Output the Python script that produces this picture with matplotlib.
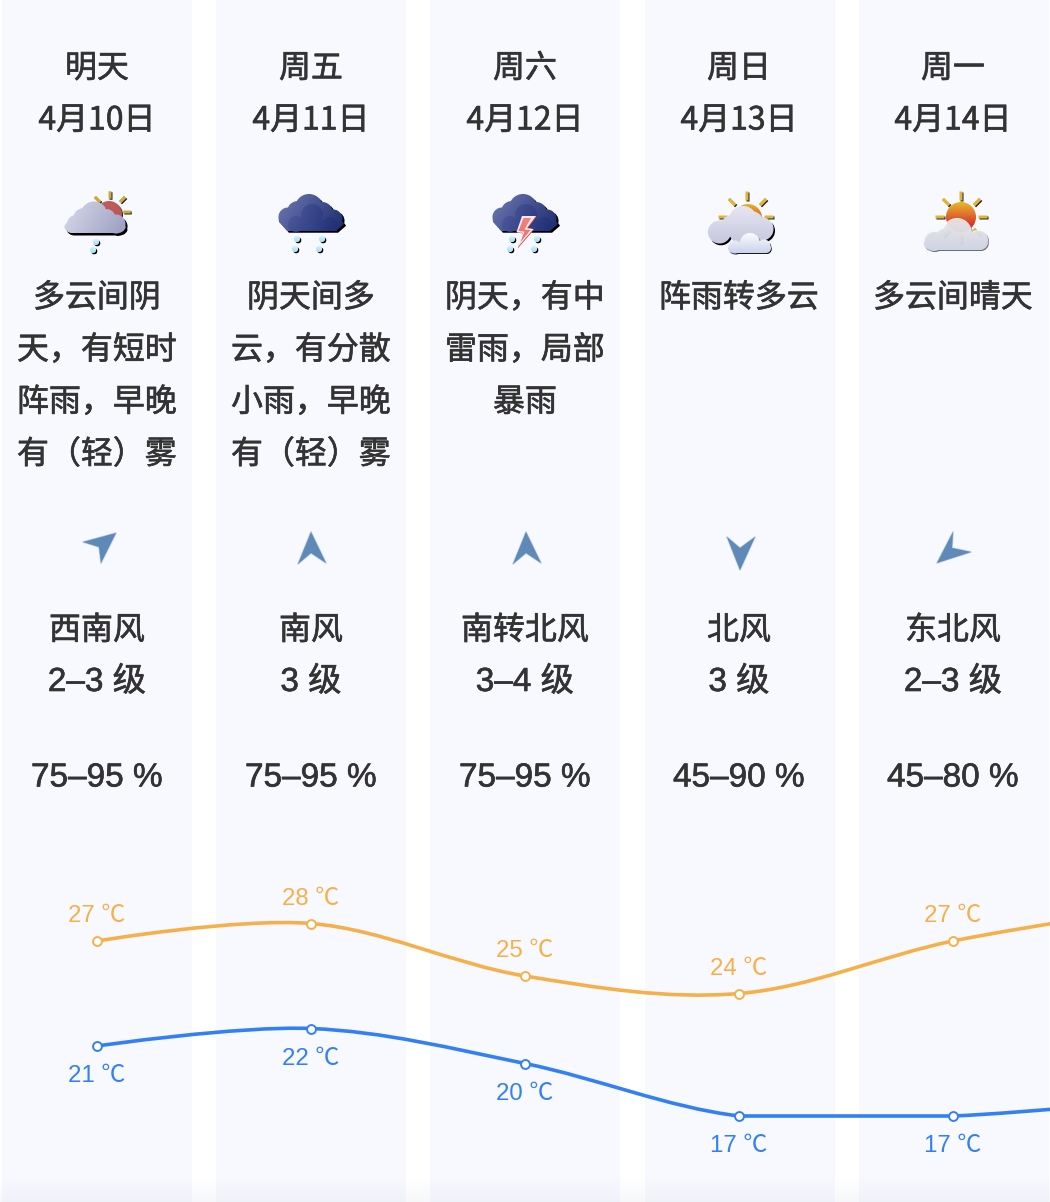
import numpy as np
import matplotlib
matplotlib.use("Agg")
import matplotlib.pyplot as plt
import matplotlib.patheffects as pe
from matplotlib.path import Path
from matplotlib.patches import PathPatch, Polygon, Rectangle

plt.rcParams['font.family'] = ['Noto Sans CJK SC', 'DejaVu Sans']

# ---------- data ----------
day_names = ["明天", "周五", "周六", "周日", "周一"]
dates = ["4月10日", "4月11日", "4月12日", "4月13日", "4月14日"]
weather = [
    ["多云间阴", "天，有短时", "阵雨，早晚", "有（轻）雾"],
    ["阴天间多", "云，有分散", "小雨，早晚", "有（轻）雾"],
    ["阴天，有中", "雷雨，局部", "暴雨"],
    ["阵雨转多云"],
    ["多云间晴天"],
]
wind_dir = ["西南风", "南风", "南转北风", "北风", "东北风"]
wind_level = ["2–3 级", "3 级", "3–4 级", "3 级", "2–3 级"]
humidity = ["75–95 %", "75–95 %", "75–95 %", "45–90 %", "45–80 %"]
# the sixth value belongs to the next day, which the crop cuts off
temp_high = [27, 28, 25, 24, 27, 29]
temp_low = [21, 22, 20, 17, 17, 18]

W, H = 1050, 1202
DAY0, DAY_STEP = 97, 214
BG = "#f8f9ff"
TEXT = "#333333"
ORANGE = "#f6b04a"
BLUE = "#3380f4"
ARROW = "#5f8ab8"

fig = plt.figure(figsize=(W / 100, H / 100), dpi=100, facecolor="white")
ax = fig.add_axes([0, 0, 1, 1])
ax.set_axis_off()

# ---------- column backgrounds ----------
for left in [2, 216, 430, 645, 859]:
    ax.add_patch(Rectangle((left, 0), 190, H, fc=BG, ec="none", zorder=0))


# ---------- small raster painter for the picture-like weather icons ----------
class Icon:
    SS = 4

    def __init__(self, x0, y0, w, h):
        self.ext = (x0, x0 + w, y0 + h, y0)
        self.x0, self.y0, self.w, self.h = x0, y0, w, h
        n = self.SS
        xs = x0 + (np.arange(w * n) + .5) / n
        ys = y0 + (np.arange(h * n) + .5) / n
        self.X, self.Y = np.meshgrid(xs, ys)
        self.rgb = np.ones(self.X.shape + (3,))
        self.a = np.zeros(self.X.shape)

    def circles(self, items, dx=0, dy=0):
        m = np.zeros(self.X.shape, bool)
        for cx, cy, r in items:
            m |= (self.X - cx - dx) ** 2 + (self.Y - cy - dy) ** 2 <= r * r
        return m

    def rbox(self, x1, y1, x2, y2, r, dx=0, dy=0):
        qx = np.abs(self.X - dx - (x1 + x2) / 2) - (x2 - x1) / 2 + r
        qy = np.abs(self.Y - dy - (y1 + y2) / 2) - (y2 - y1) / 2 + r
        d = np.hypot(np.maximum(qx, 0), np.maximum(qy, 0)) + np.minimum(np.maximum(qx, qy), 0) - r
        return d <= 0

    def poly(self, pts, dx=0, dy=0):
        p = Path([(a + dx, b + dy) for a, b in pts] + [pts[0]])
        pp = np.c_[self.X.ravel(), self.Y.ravel()]
        return p.contains_points(pp).reshape(self.X.shape)

    def grad(self, c1, c2, ux=0.0, uy=1.0, lo=None, hi=None):
        c1 = np.array(matplotlib.colors.to_rgb(c1))
        c2 = np.array(matplotlib.colors.to_rgb(c2))
        t = ux * self.X + uy * self.Y
        lo = t.min() if lo is None else lo
        hi = t.max() if hi is None else hi
        t = np.clip((t - lo) / (hi - lo), 0, 1)[..., None]
        return c1 * (1 - t) + c2 * t

    def paint(self, mask, col, alpha=1.0):
        if isinstance(col, str):
            col = np.array(matplotlib.colors.to_rgb(col))
        a = mask.astype(float) * alpha
        if np.ndim(col) == 1:
            col = np.broadcast_to(col, self.rgb.shape)
        out = a + self.a * (1 - a)
        safe = np.where(out > 0, out, 1)[..., None]
        self.rgb = (col * a[..., None] + self.rgb * (self.a * (1 - a))[..., None]) / safe
        self.a = out

    def ray(self, x, y, ang, ln=7.5, wd=3.2, col="#dcb63a"):
        c, s = np.cos(ang), np.sin(ang)
        u = (self.X - x) * c + (self.Y - y) * s
        v = -(self.X - x) * s + (self.Y - y) * c
        u2 = (self.X - x - 1) * c + (self.Y - y - 1) * s
        v2 = -(self.X - x - 1) * s + (self.Y - y - 1) * c
        self.paint((np.abs(u2) < ln / 2) & (np.abs(v2) < wd / 2), "#000000", .85)
        self.paint((np.abs(u) < ln / 2) & (np.abs(v) < wd / 2), col)

    def drop(self, x, y, r=3.1):
        self.paint(self.circles([(x, y, r)], 1.2, 1.2), "#000000")
        self.paint(self.circles([(x, y, r)]), self.grad("#d6f4fc", "#a4dcf2", lo=y - r, hi=y + r))

    def show(self):
        n = self.SS
        h, w = self.h, self.w
        pm = self.rgb * self.a[..., None]
        pm = pm.reshape(h, n, w, n, 3).mean(axis=(1, 3))
        a = self.a.reshape(h, n, w, n).mean(axis=(1, 3))
        rgb = pm / np.where(a > 0, a, 1)[..., None]
        ax.imshow(np.dstack([rgb, a]), extent=self.ext, interpolation="bilinear",
                  aspect="auto", zorder=2)


D45 = np.pi / 4

# icon 1: cloudy with a small sun and rain
ic = Icon(55, 185, 85, 75)
for x, y, a in [(110, 195, np.pi / 2), (97.5, 199.5, D45), (122.5, 199.5, -D45), (127, 212, 0)]:
    ic.ray(x, y, a, col="#c9aa42")
ic.paint(ic.circles([(109, 214, 13)], 1, 1), "#222222")
ic.paint(ic.circles([(109, 214, 13)]), ic.grad("#bc6a66", "#bb3a3a"))
cl = [(94, 215, 13.5), (84, 219, 11), (76, 224, 9), (106, 219, 10), (116, 224, 9.5)]
sh = ic.circles(cl, 2, 2.4) | ic.rbox(64, 222, 126, 233, 8, 2, 2.4)
ic.paint(sh, "#000000")
ic.paint(ic.circles(cl) | ic.rbox(64, 221, 126, 233, 8),
         ic.grad("#d4d5e5", "#9a9cc2", ux=.85, uy=.5, lo=.85 * 70 + .5 * 205, hi=.85 * 126 + .5 * 235))
ic.drop(96, 242)
ic.drop(93, 250)
ic.show()


def dark_cloud(ic, ox):
    cl = [(309 + ox, 208, 14), (298 + ox, 212, 11), (288 + ox, 217, 9.5),
          (322 + ox, 213, 11), (333 + ox, 219, 9.5)]
    base = [(278.5 + ox, 218), (342 + ox, 221), (344 + ox, 224), (336 + ox, 231), (287 + ox, 231), (279 + ox, 222)]
    ic.paint(ic.circles(cl, 2, 1.8) | ic.poly(base, 2, 1.8), "#000000")
    ic.paint(ic.circles(cl) | ic.poly(base),
             ic.grad("#6a77b0", "#1c2a6e", ux=.8, uy=.6,
                     lo=.8 * (280 + ox) + .6 * 198, hi=.8 * (343 + ox) + .6 * 232))
    inner = ic.circles([(312 + ox, 215, 11), (296 + ox, 224, 8), (330 + ox, 224, 7)]) | ic.rbox(
        288 + ox, 220, 338 + ox, 231, 4)
    ic.paint(inner & (ic.Y > 204),
             ic.grad("#4a579c", "#1e2c72", ux=1, uy=.3, lo=288 + ox + 62, hi=340 + ox + 68), .8)


# icon 2: overcast with rain
ic = Icon(270, 185, 85, 75)
dark_cloud(ic, 0)
for x, y in [(297, 239), (295, 249), (322, 239), (319, 249)]:
    ic.drop(x, y)
ic.show()

# icon 3: thunderstorm
ic = Icon(484, 185, 85, 75)
dark_cloud(ic, 214)
for x, y in [(512, 239), (510, 249), (537, 239), (534, 249)]:
    ic.drop(x, y)
bolt = [(522, 216), (536, 216), (527, 228), (533.5, 229), (517, 248), (523, 233), (516.5, 232)]
ic.paint(ic.poly(bolt, .6, .6), "#c04848")
ic.paint(ic.poly(bolt), "#fbe8e8")
bolt2 = [(523.5, 218), (531, 218), (524.5, 229.5), (530.5, 230), (520.5, 242), (524.5, 231.5), (518.5, 231)]
ic.paint(ic.poly(bolt2), ic.grad("#f6a4a4", "#e85a5a"))
ic.show()

# icon 4: showers to cloudy
ic = Icon(698, 185, 85, 75)
for x, y, a in [(747, 196, np.pi / 2), (732, 202, D45), (763, 202, -D45), (769, 217, 0), (723, 217, 0)]:
    ic.ray(x, y, a, ln=9)
ic.paint(ic.circles([(748, 218, 14)]), ic.grad("#e8b42c", "#d8402c", lo=204, hi=222))
big = [(743, 220, 14), (751, 224, 13), (732, 226, 11), (719.5, 232, 11.5), (762, 229, 11.5), (742, 232, 12.5)]
ic.paint(ic.circles(big, 1.5, 1.8), "#000000")
ic.paint(ic.circles(big), ic.grad("#e6e6f2", "#c4c6dc", lo=206, hi=245))
small = [(750, 243, 10), (735, 247, 6.5), (764, 246, 6.5)]
ic.paint(ic.circles(small, .8, 1) | ic.rbox(728, 243, 771, 253, 5, .8, 1), "#1a1a2a")
ic.paint(ic.circles(small) | ic.rbox(728, 243, 771, 253, 5), ic.grad("#fbfcff", "#c8d0ea", lo=233, hi=254))
ic.show()

# icon 5: cloudy with sunny intervals
ic = Icon(912, 185, 85, 75)
for x, y, a in [(961, 196, np.pi / 2), (946, 202, D45), (977, 202, -D45), (940, 217, 0), (983, 217, 0),
                (946, 233, -D45), (961, 239, np.pi / 2), (977, 232, D45)]:
    ic.ray(x, y, a, ln=9)
ic.paint(ic.circles([(961, 217, 15)]), ic.grad("#e8b42c", "#d8382c", lo=203, hi=224))
c5 = [(957, 233, 15), (934, 241, 10), (978, 240, 10), (946, 238, 11)]
b5 = ic.rbox(923, 236, 988, 250, 8)
ic.paint(ic.circles(c5, .8, 1) | ic.rbox(923, 236, 988, 250, 8, .8, 1), "#333340", .7)
ic.paint(ic.circles(c5) | b5, ic.grad("#fdfcfe", "#e2e8f8", lo=224, hi=250), .84)
ic.show()

# ---------- wind arrows ----------
arrows = [
    [(116, 533), (83, 542), (99, 547), (101, 563)],
    [(311, 532), (326, 563), (311, 553), (298, 564)],
    [(526, 532), (541, 563), (526, 553), (513, 564)],
    [(740, 570), (755, 537), (740, 548), (727, 537)],
    [(953, 532), (952, 548), (971, 552), (937, 563)],
]
for pts in arrows:
    ax.add_patch(Polygon(pts, closed=True, fc=ARROW, ec=ARROW, lw=1.2, alpha=.35, zorder=2, joinstyle="round"))
    ax.add_patch(Polygon(pts, closed=True, fc=ARROW, ec="none", zorder=2))

# ---------- texts ----------
FS = 23
BOLDEN = [pe.withStroke(linewidth=0.45, foreground=TEXT)]
LATIN = ['Liberation Sans', 'Noto Sans CJK SC']
for i in range(5):
    x = DAY0 + i * DAY_STEP
    kw = dict(ha="center", va="center", color=TEXT, fontsize=FS, zorder=3, path_effects=BOLDEN)
    ax.text(x, 68.5, day_names[i], **kw)
    ax.text(x, 120.5, dates[i], **kw)
    for j, line in enumerate(weather[i]):
        ax.text(x, 298 + j * 52.2, line, **kw)
    ax.text(x, 630.5, wind_dir[i], **kw)
    kw2 = dict(kw, fontsize=24, family=LATIN)
    ax.text(x, 682.5, wind_level[i], **kw2)
    ax.text(x, 778, humidity[i], **kw2)

# ---------- bottom fade ----------
fade = np.zeros((26, 1, 4))
fade[..., :3] = (0.55, 0.58, 0.72)
fade[..., 3] = np.linspace(0, .07, 26)[:, None]
ax.imshow(fade, extent=(0, W, H, H - 26), aspect="auto", zorder=1, interpolation="bilinear")
ax.set_xlim(0, W)
ax.set_ylim(H, 0)

# ---------- temperature curves on their own scale ----------
PX_PER_DEG = 17.5
tax = fig.add_axes([0, 0, 1, 1], facecolor="none")
tax.set_axis_off()
tax.set_xlim(-DAY0 / DAY_STEP, (W - DAY0) / DAY_STEP)
tax.set_ylim(27 + (941 - H) / PX_PER_DEG, 27 + 941 / PX_PER_DEG)


def smooth_path(xs, ys, k=0.17):
    verts = [(xs[0], ys[0])]
    codes = [Path.MOVETO]
    n = len(xs)
    for i in range(n - 1):
        xa, ya = xs[i], ys[i]
        xb, yb = xs[i + 1], ys[i + 1]
        if i == 0:
            c1 = (xa, ya)
        else:
            c1y = ya if ya == yb else ya + k * (yb - ys[i - 1])
            c1 = (xa + k * (xb - xs[i - 1]), c1y)
        if i + 2 >= n:
            c2 = (xb, yb)
        else:
            c2y = yb if ya == yb else yb - k * (ys[i + 2] - ya)
            c2 = (xb - k * (xs[i + 2] - xa), c2y)
        verts += [c1, c2, (xb, yb)]
        codes += [Path.CURVE4] * 3
    return Path(verts, codes)


days = np.arange(6)
for vals, col, off in [(temp_high, ORANGE, 25), (temp_low, BLUE, -30)]:
    tax.add_patch(PathPatch(smooth_path(days, vals), fc="none", ec=col, lw=2.6, zorder=4))
    tax.plot(days[:5], vals[:5], ls="none", marker="o", ms=6.4, mfc="white", mec=col, mew=1.4, zorder=5)
    for d, v in zip(days[:5], vals[:5]):
        tax.annotate(f"{v} ℃", (d, v), xytext=(0, off * .72), textcoords="offset points",
                     ha="center", va="center", color=col, fontsize=17.3, family=LATIN, zorder=6)

fig.savefig("out.png", dpi=100, facecolor="white")
